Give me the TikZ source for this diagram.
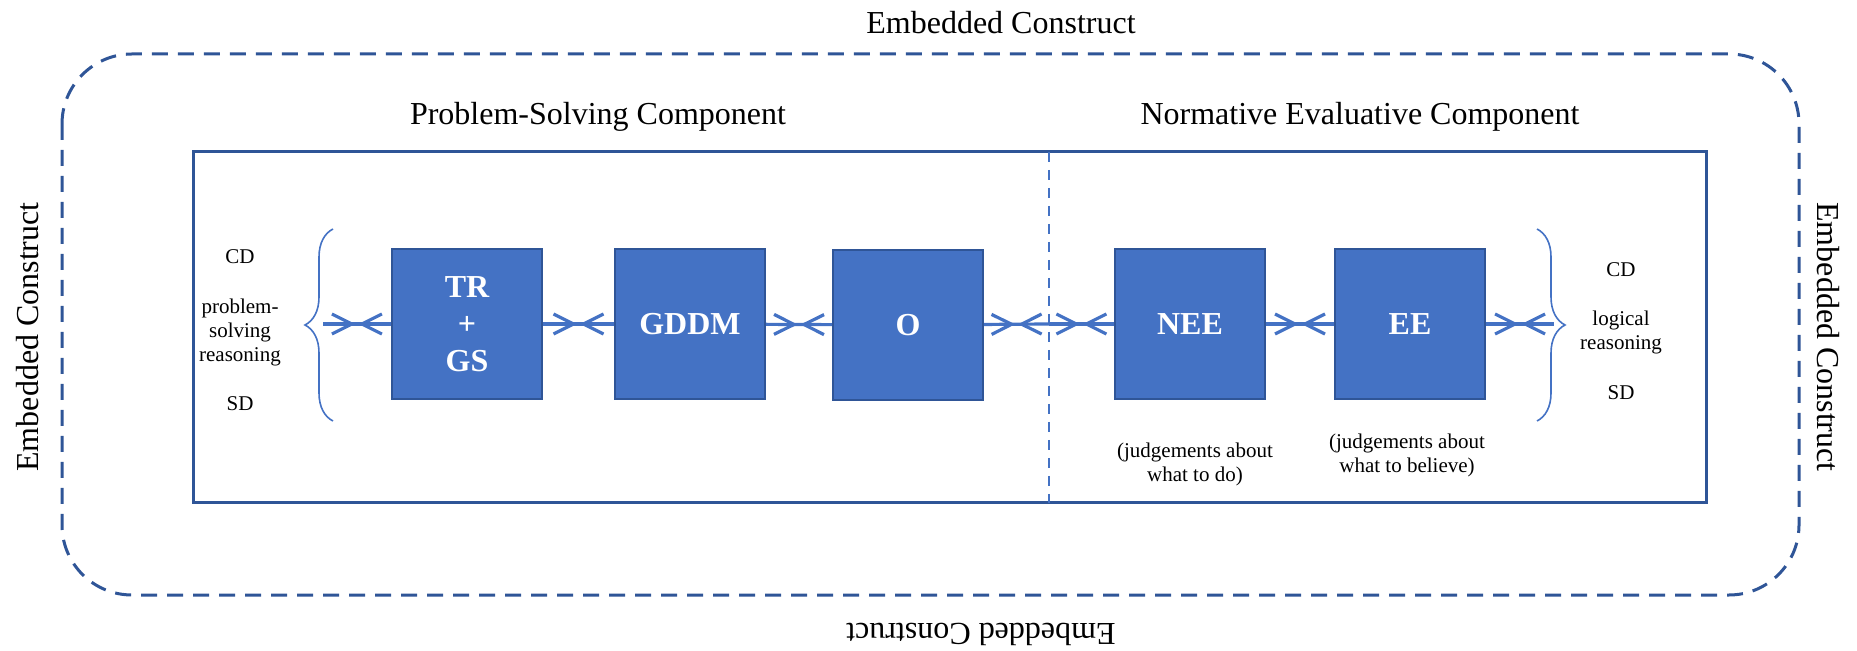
\documentclass[tikz,border=0pt]{standalone}
\usepackage{fontspec}
\setmainfont{Liberation Serif}
\usepackage{xcolor}
\usepackage{tikz}
\usetikzlibrary{calc, arrows.meta, positioning, decorations.markings, decorations.pathreplacing}

\definecolor{boxblue}{HTML}{4472C4}
\definecolor{edgeblue}{HTML}{2F5597}

\begin{document}
\begin{tikzpicture}[x=0.5pt, y=-0.5pt]
		\tikzstyle{block} = [draw=edgeblue, fill=boxblue, line width=1.2pt, minimum width=75pt, minimum height=75pt, inner sep=0pt, text=white, align=center, font=\fontsize{16}{18.5}\selectfont\bfseries]
		\tikzstyle{title} = [draw=none, font=\fontsize{16}{19}\selectfont]
		\tikzstyle{small} = [draw=none, align=center, font=\fontsize{10.5}{12}\selectfont]
		\tikzstyle{meet} = [draw=boxblue, line width=1.6pt, postaction={decorate}, decoration={markings, mark=at position 0.5 with {\draw[boxblue, line width=1.6pt] (-12.5pt,5pt) -- (-2.5pt,0pt) -- (-12.5pt,-5pt) (12.5pt,5pt) -- (2.5pt,0pt) -- (12.5pt,-5pt);}}]
		\tikzstyle{brc} = [draw=boxblue, line width=0.8pt, decorate, decoration={brace, amplitude=14pt}]
		
		\useasboundingbox (0,0) rectangle (1857,651);
		
		% frames
		\draw[edgeblue, line width=1.5pt, dash pattern=on 8pt off 5pt, rounded corners=35pt] (62,54) rectangle (1799,595);
		\draw[edgeblue, line width=1.5pt] (193,152) rectangle (1706,503);
		\coordinate (divT) at (1049,152);
		\coordinate (divB) at (1049,503);
		\draw[boxblue, line width=1.2pt, dash pattern=on 5pt off 4pt] (divT) -- (divB);
		
		\node[title] 	at (1001, 23)	(top) 	{Embedded Construct};
		\node[title, rotate=180] 	at (981, 634)	(bot) 	{Embedded Construct};
		\node[title, rotate=90] 	at (28, 337)	(lft) 	{Embedded Construct};
		\node[title, rotate=-90] 	at (1828, 337)	(rgt) 	{Embedded Construct};
		\node[title] 	at (598, 117)	(ps) 	{Problem-Solving Component};
		\node[title] 	at (1360, 117)	(ne) 	{Normative Evaluative Component};
		
		\node[block] 	at (467, 324)	(tr) 	{TR\\+\\GS};
		\node[block] 	at (690, 324)	(gddm) 	{GDDM};
		\node[block] 	at (908, 325)	(o) 	{O};
		\node[block] 	at (1190, 324)	(nee) 	{NEE};
		\node[block] 	at (1410, 324)	(ee) 	{EE};
		
		\node[small] 	at (240, 257)	(cdL) 	{CD};
		\node[small] 	at (240, 332)	(psr) 	{problem-\\solving\\reasoning};
		\node[small] 	at (240, 404)	(sdL) 	{SD};
		\node[small] 	at (1621, 270)	(cdR) 	{CD};
		\node[small] 	at (1621, 332)	(lr) 	{logical\\reasoning};
		\node[small] 	at (1621, 393)	(sdR) 	{SD};
		\node[small] 	at (1195, 464)	(jdo) 	{(judgements about\\what to do)};
		\node[small] 	at (1407, 455)	(jbel) 	{(judgements about\\what to believe)};
		
		% braces
		\coordinate (lbB) at (333, 421);
		\coordinate (lbT) at (333, 229);
		\coordinate (rbT) at (1537, 229);
		\coordinate (rbB) at (1537, 421);
		\draw[brc] (lbB) -- (lbT);
		\draw[brc] (rbT) -- (rbB);
		
		\coordinate (lb) 	at (323, 324);
		\coordinate (rb) 	at (1554, 324);
		\coordinate (divM) 	at (1049, 324);
		
		\path
		(lb) 	edge 	[meet] 	(tr)
		(tr) 	edge 	[meet] 	(gddm)
		(gddm) 	edge 	[meet] 	(o)
		(o) 	edge 	[meet] 	(divM)
		(divM) 	edge 	[meet] 	(nee)
		(nee) 	edge 	[meet] 	(ee)
		(ee) 	edge 	[meet] 	(rb);
	\end{tikzpicture}
\end{document}
